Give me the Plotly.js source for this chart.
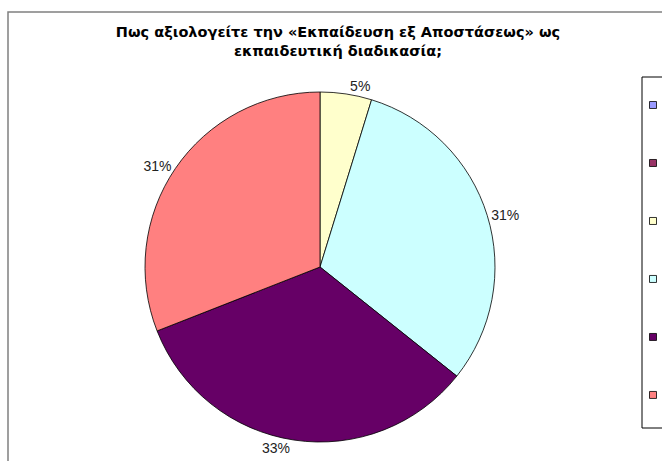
<!DOCTYPE html>
<html>
<head>
<meta charset="utf-8">
<script src="https://cdn.plot.ly/plotly-3.0.1.min.js"></script>
<style>html,body{margin:0;padding:0;background:#fff;}</style>
</head>
<body>
<div id="chart" style="width:662px;height:461px;"></div>
<script>
// Data
const categories = ['0', '1', '2', '3', '4', '5'];
const counts = [0, 0, 2, 13, 14, 13];
const sliceColors = ['#9999FF', '#993366', '#FFFFCC', '#CCFFFF', '#660066', '#FF8080'];
const titleText = 'Πως αξιολογείτε την «Εκπαίδευση εξ Αποστάσεως» ως<br>εκπαιδευτική διαδικασία;';

const W = 662, H = 461;
const cx = 320, cy = 267, r = 175;

const trace = {
  type: 'pie',
  labels: categories,
  values: counts,
  sort: false,
  direction: 'clockwise',
  rotation: 0,
  marker: { colors: sliceColors, line: { color: '#000', width: 0.8 } },
  texttemplate: counts.map(v => v ? '%{percent:.0%}' : ''),
  textposition: 'outside',
  outsidetextfont: { family: 'Liberation Sans, Arial, sans-serif', size: 14, color: '#222' },
  domain: { x: [(cx - r) / W, (cx + r) / W], y: [1 - (cy + r) / H, 1 - (cy - r) / H] },
  hoverinfo: 'label+percent'
};

const layout = {
  width: W, height: H,
  margin: { l: 0, r: 0, t: 0, b: 0, autoexpand: false },
  paper_bgcolor: '#fff',
  font: { family: 'Liberation Sans, Arial, sans-serif', color: '#000' },
  title: {
    text: '<b>' + titleText + '</b>',
    font: { family: 'DejaVu Sans, sans-serif', size: 14.5, color: '#000' },
    x: 338 / W, xanchor: 'center',
    y: 1 - 37 / H, yanchor: 'top'
  },
  showlegend: true,
  legend: {
    x: 633 / W, xanchor: 'left',
    y: 1 - 71 / H, yanchor: 'top',
    bgcolor: 'rgba(0,0,0,0)', borderwidth: 0,
    font: { family: 'Liberation Sans, Arial, sans-serif', size: 42.3, color: '#000' }
  },
  shapes: [
    { type: 'rect', xref: 'paper', yref: 'paper', x0: 8 / W, x1: 1.05, y0: -0.05, y1: 1 - 12 / H,
      line: { color: '#808080', width: 1.5 }, fillcolor: 'rgba(0,0,0,0)', layer: 'below' },
    { type: 'rect', xref: 'paper', yref: 'paper', x0: 642 / W, x1: 1.05, y0: 1 - 428 / H, y1: 1 - 77 / H,
      line: { color: '#000', width: 1 }, fillcolor: '#fff', layer: 'below' }
  ]
};

Plotly.newPlot('chart', [trace], layout, { staticPlot: true }).then(() => {
  document.querySelectorAll('#chart .legendpie').forEach(p => {
    p.setAttribute('d', 'M3.5,3.5H-3.5V-3.5H3.5Z');
  });
});
</script>
</body>
</html>
